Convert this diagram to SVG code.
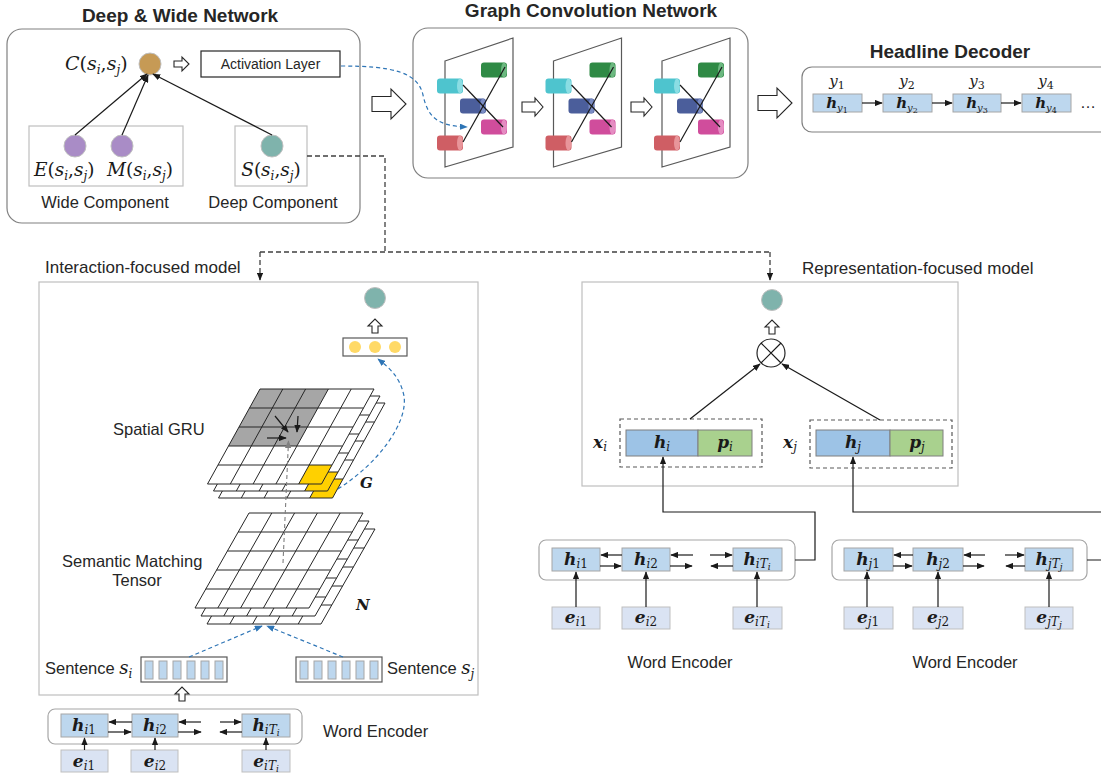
<svg xmlns="http://www.w3.org/2000/svg" width="1101" height="777" viewBox="0 0 1101 777">
<style>
.sans{font-family:"Liberation Sans",Arial,sans-serif;fill:#262626}
.title{font-family:"Liberation Sans",Arial,sans-serif;font-weight:bold;font-size:19px;fill:#262626}
.m{font-family:"DejaVu Serif","Liberation Serif",serif;font-style:italic;fill:#1a1a1a}
.mb{font-family:"DejaVu Serif","Liberation Serif",serif;font-style:italic;font-weight:bold;fill:#1a1a1a}
.up{font-style:normal}
.nb{font-weight:normal}
.rbox{fill:#fff;stroke:#808080;stroke-width:1.2}
.lbox{fill:none;stroke:#BFBFBF;stroke-width:1.2}
.hb{fill:#BDD7EE;stroke:#A6A6A6;stroke-width:1}
.eb{fill:#DAE3F3;stroke:#BFBFBF;stroke-width:1}
.ln{fill:none;stroke:#1a1a1a;stroke-width:1.2}
.arr{fill:none;stroke:#1a1a1a;stroke-width:1.2;marker-end:url(#ah)}
.bdash{fill:none;stroke:#2E75B6;stroke-width:1.2;stroke-dasharray:4 3;marker-end:url(#ab)}
.gdash{fill:none;stroke:#404040;stroke-width:1.3;stroke-dasharray:5 3}
.hollow{fill:#fff;stroke:#262626;stroke-width:1.1}
.gl{fill:none;stroke:#262626;stroke-width:1}
.gp{fill:#fff;stroke:none}
.panel{fill:none;stroke:#595959;stroke-width:1.2}
</style>
<defs>
<marker id="ah" viewBox="0 0 10 8" refX="9" refY="4" markerWidth="8" markerHeight="6.4" orient="auto" markerUnits="userSpaceOnUse"><path d="M0,0 L10,4 L0,8 z" fill="#1a1a1a"/></marker>
<marker id="ab" viewBox="0 0 10 8" refX="9" refY="4" markerWidth="8" markerHeight="6.4" orient="auto" markerUnits="userSpaceOnUse"><path d="M0,0 L10,4 L0,8 z" fill="#2E75B6"/></marker>
<marker id="ag" viewBox="0 0 10 8" refX="9" refY="4" markerWidth="8" markerHeight="6.4" orient="auto" markerUnits="userSpaceOnUse"><path d="M0,0 L10,4 L0,8 z" fill="#7F7F7F"/></marker>
<path id="hsm" d="M0,-3 H8 V-7 L15,0 L8,7 V3 H0 Z"/>
<path id="hmd" d="M0,-5 H13 V-9 L21,0 L13,9 V5 H0 Z"/>
<path id="hbg" d="M0,-7.5 H19 V-15 L34,0 L19,15 V7.5 H0 Z"/>
<path id="hup" d="M-3,0 V-7 H-7 L0,-14 L7,-7 H3 V0 Z"/>
<g id="gcnPanel">
<polygon class="panel" points="445,61 513,38 513,147 445,167"/>
<rect x="437" y="78.5" width="26" height="15" rx="3" fill="#4EC4CE"/><ellipse cx="460" cy="86" rx="3" ry="7.5" fill="#8ADDE3"/>
<rect x="481" y="62.5" width="26" height="15" rx="3" fill="#2F8A45"/><ellipse cx="504" cy="70" rx="3" ry="7.5" fill="#6CB880"/>
<rect x="460" y="98.5" width="26" height="15" rx="3" fill="#4B5E9B"/><ellipse cx="483" cy="106" rx="3" ry="7.5" fill="#7A8CC4"/>
<rect x="481" y="119.5" width="26" height="15" rx="3" fill="#D04D9C"/><ellipse cx="504" cy="127" rx="3" ry="7.5" fill="#E58CC2"/>
<rect x="437" y="135.5" width="26" height="15" rx="3" fill="#CF5E64"/><ellipse cx="460" cy="143" rx="3" ry="7.5" fill="#E8959A"/>
<line class="ln" x1="463" y1="85" x2="503" y2="127"/>
<line class="ln" x1="463" y1="142" x2="505" y2="67"/>
</g>
<polygon id="gruBase" class="gp" points="260,389 374,389 321.5,484 207.5,484"/>
<polygon id="gruYel" fill="#FFD000" points="309.2,465 332,465 321.5,484 298.7,484"/>
<polygon id="gruGray" fill="#A6A6A6" points="260,389 328.4,389 296.9,446 228.5,446"/>
<path id="gruLines" class="gl" d="M260,389 H374 L321.5,484 H207.5 Z M282.8,389 L230.3,484 M305.6,389 L253.1,484 M328.4,389 L275.9,484 M351.2,389 L298.7,484 M249.5,408 H363.5 M239,427 H353 M228.5,446 H342.5 M218,465 H332"/>
<polygon id="smtBase" class="gp" points="249,513 363,513 309,608 195,608"/>
<path id="smtLines" class="gl" d="M249,513 H363 L309,608 H195 Z M271.8,513 L217.8,608 M294.6,513 L240.6,608 M317.4,513 L263.4,608 M340.2,513 L286.2,608 M238.2,532 H352.2 M227.4,551 H341.4 M216.6,570 H330.6 M205.8,589 H319.8"/>
</defs>

<rect width="1101" height="777" fill="#fff"/>

<!-- Deep & Wide Network -->
<g id="deep-wide">
<text class="title" x="180" y="22" text-anchor="middle">Deep &amp; Wide Network</text>
<rect class="rbox" x="7" y="29" width="353" height="194" rx="15"/>
<rect class="lbox" x="29" y="126" width="154" height="60"/>
<rect class="lbox" x="235" y="126" width="72" height="60"/>
<text class="m" x="65" y="70" font-size="19">C<tspan class="up">(</tspan>s<tspan font-size="12" dy="4">i</tspan><tspan class="up" dy="-4">,</tspan>s<tspan font-size="12" dy="4">j</tspan><tspan class="up" dy="-4">)</tspan></text>
<circle cx="150" cy="64" r="11" fill="#C69A55" stroke="#BFBFBF"/>
<use href="#hsm" x="174" y="64" class="hollow"/>
<rect x="201" y="51" width="139" height="26" fill="#fff" stroke="#262626" stroke-width="1.2"/>
<text class="sans" x="270.5" y="69" font-size="14" text-anchor="middle">Activation Layer</text>
<circle cx="75" cy="146" r="11" fill="#A98CC6" stroke="#BFBFBF"/>
<circle cx="122" cy="146" r="11" fill="#A98CC6" stroke="#BFBFBF"/>
<circle cx="272" cy="146" r="11" fill="#7FB3AC" stroke="#BFBFBF"/>
<text class="m" x="34" y="176" font-size="18.5">E<tspan class="up">(</tspan>s<tspan font-size="12" dy="4">i</tspan><tspan class="up" dy="-4">,</tspan>s<tspan font-size="12" dy="4">j</tspan><tspan class="up" dy="-4">)</tspan></text>
<text class="m" x="107" y="176" font-size="18.5">M<tspan class="up">(</tspan>s<tspan font-size="12" dy="4">i</tspan><tspan class="up" dy="-4">,</tspan>s<tspan font-size="12" dy="4">j</tspan><tspan class="up" dy="-4">)</tspan></text>
<text class="m" x="271" y="176" font-size="18.5" text-anchor="middle">S<tspan class="up">(</tspan>s<tspan font-size="12" dy="4">i</tspan><tspan class="up" dy="-4">,</tspan>s<tspan font-size="12" dy="4">j</tspan><tspan class="up" dy="-4">)</tspan></text>
<text class="sans" x="105" y="208" font-size="16.5" text-anchor="middle">Wide Component</text>
<text class="sans" x="273" y="208" font-size="16.5" text-anchor="middle">Deep Component</text>
</g>

<!-- Graph Convolution Network -->
<g id="gcn">
<text class="title" x="591" y="17" text-anchor="middle">Graph Convolution Network</text>
<rect class="rbox" x="413" y="28" width="335" height="150" rx="15"/>
<use href="#gcnPanel"/>
<use href="#gcnPanel" x="108.5"/>
<use href="#gcnPanel" x="217"/>
<use href="#hmd" x="522" y="107" class="hollow"/>
<use href="#hmd" x="631" y="107" class="hollow"/>
</g>

<!-- Headline Decoder -->
<g id="decoder">
<text class="title" x="950" y="58" text-anchor="middle">Headline Decoder</text>
<rect class="rbox" x="802" y="67" width="320" height="65" rx="10"/>
<rect class="hb" x="813" y="94" width="49" height="18"/>
<rect class="hb" x="883" y="94" width="49" height="18"/>
<rect class="hb" x="953" y="94" width="48" height="18"/>
<rect class="hb" x="1022" y="94" width="49" height="18"/>
<text class="m" x="837" y="86" font-size="15" text-anchor="middle">y<tspan class="up" font-size="11" dy="3">1</tspan></text>
<text class="m" x="907" y="86" font-size="15" text-anchor="middle">y<tspan class="up" font-size="11" dy="3">2</tspan></text>
<text class="m" x="977" y="86" font-size="15" text-anchor="middle">y<tspan class="up" font-size="11" dy="3">3</tspan></text>
<text class="m" x="1046" y="86" font-size="15" text-anchor="middle">y<tspan class="up" font-size="11" dy="3">4</tspan></text>
<text class="mb" x="837" y="108" font-size="15" text-anchor="middle">h<tspan class="nb" font-size="10" dy="3">y</tspan><tspan class="nb up" font-size="8" dy="2">1</tspan></text>
<text class="mb" x="907" y="108" font-size="15" text-anchor="middle">h<tspan class="nb" font-size="10" dy="3">y</tspan><tspan class="nb up" font-size="8" dy="2">2</tspan></text>
<text class="mb" x="977" y="108" font-size="15" text-anchor="middle">h<tspan class="nb" font-size="10" dy="3">y</tspan><tspan class="nb up" font-size="8" dy="2">3</tspan></text>
<text class="mb" x="1046" y="108" font-size="15" text-anchor="middle">h<tspan class="nb" font-size="10" dy="3">y</tspan><tspan class="nb up" font-size="8" dy="2">4</tspan></text>
<text class="sans" x="1080" y="108" font-size="16">…</text>
</g>

<!-- Interaction-focused model -->
<g id="interaction">
<text class="sans" x="45" y="273" font-size="17">Interaction-focused model</text>
<rect class="lbox" x="39" y="282" width="439" height="413"/>
<circle cx="375" cy="298" r="10.5" fill="#7FB3AC" stroke="#BFBFBF"/>
<use href="#hup" x="375" y="333" class="hollow"/>
<rect x="343" y="338" width="64" height="18" fill="#fff" stroke="#595959" stroke-width="1.2"/>
<circle cx="355" cy="347" r="6" fill="#FFD966"/>
<circle cx="375" cy="347" r="6" fill="#FFD966"/>
<circle cx="395" cy="347" r="6" fill="#FFD966"/>
<text class="sans" x="113" y="435" font-size="16.5">Spatial GRU</text>
<text class="sans" x="62" y="567" font-size="16.5">Semantic Matching</text>
<text class="sans" x="137" y="586" font-size="16.5" text-anchor="middle">Tensor</text>
<text class="mb" x="360" y="488" font-size="15">G</text>
<text class="mb" x="356" y="610" font-size="15">N</text>
</g>

<!-- Spatial GRU grid -->
<g id="spatial-gru">
<g transform="translate(11,14)"><use href="#gruBase"/><use href="#gruYel"/><use href="#gruLines"/></g>
<g transform="translate(6,7)"><use href="#gruBase"/><use href="#gruYel"/><use href="#gruLines"/></g>
<use href="#gruBase"/><use href="#gruGray"/><use href="#gruYel"/><use href="#gruLines"/>
<line class="arr" x1="275" y1="416" x2="288" y2="432"/>
<line class="arr" x1="298" y1="416" x2="297" y2="432"/>
<line class="arr" x1="267" y1="438" x2="286" y2="438"/>
</g>

<!-- Semantic Matching Tensor grid -->
<g id="matching-tensor">
<g transform="translate(12,16)"><use href="#smtBase"/><use href="#smtLines"/></g>
<g transform="translate(6,8)"><use href="#smtBase"/><use href="#smtLines"/></g>
<use href="#smtBase"/><use href="#smtLines"/>
</g>

<!-- Sentences -->
<g id="sentence-i">
<text class="sans" x="45" y="674" font-size="16.5">Sentence <tspan class="m" font-size="18">s</tspan><tspan class="m" font-size="12" dy="4">i</tspan></text>
<rect x="141" y="657" width="86" height="25" fill="#fff" stroke="#595959" stroke-width="1.2"/>
<g class="hb" stroke="#9DC3E6"><rect x="145" y="661" width="8" height="18"/><rect x="159" y="661" width="8" height="18"/><rect x="173" y="661" width="8" height="18"/><rect x="187" y="661" width="8" height="18"/><rect x="201" y="661" width="8" height="18"/><rect x="215" y="661" width="8" height="18"/></g>
</g>
<g id="sentence-j">
<rect x="296" y="657" width="86" height="25" fill="#fff" stroke="#595959" stroke-width="1.2"/>
<g class="hb" stroke="#9DC3E6"><rect x="300" y="661" width="8" height="18"/><rect x="314" y="661" width="8" height="18"/><rect x="328" y="661" width="8" height="18"/><rect x="342" y="661" width="8" height="18"/><rect x="356" y="661" width="8" height="18"/><rect x="370" y="661" width="8" height="18"/></g>
<text class="sans" x="387" y="674" font-size="16.5">Sentence <tspan class="m" font-size="18">s</tspan><tspan class="m" font-size="12" dy="4">j</tspan></text>
</g>
<use href="#hup" x="182" y="701" class="hollow"/>

<!-- Word encoder (interaction) -->
<g id="word-encoder-left">
<rect x="48" y="709" width="254" height="35" rx="7" fill="#fff" stroke="#A6A6A6" stroke-width="1.2"/>
<rect class="hb" x="61" y="714" width="47" height="23"/>
<rect class="hb" x="132" y="714" width="46" height="23"/>
<rect class="hb" x="242" y="714" width="48" height="23"/>
<rect class="eb" x="61" y="750" width="47" height="22"/>
<rect class="eb" x="131" y="750" width="47" height="22"/>
<rect class="eb" x="242" y="750" width="48" height="22"/>
<text class="mb" x="84" y="731" font-size="17" text-anchor="middle">h<tspan class="nb" font-size="12" dy="3">i</tspan><tspan class="nb up" font-size="12">1</tspan></text>
<text class="mb" x="155" y="731" font-size="17" text-anchor="middle">h<tspan class="nb" font-size="12" dy="3">i</tspan><tspan class="nb up" font-size="12">2</tspan></text>
<text class="mb" x="266" y="731" font-size="17" text-anchor="middle">h<tspan class="nb" font-size="12" dy="3">iT</tspan><tspan class="nb" font-size="9" dy="2">i</tspan></text>
<text class="mb" x="84" y="767" font-size="17" text-anchor="middle">e<tspan class="nb" font-size="12" dy="3">i</tspan><tspan class="nb up" font-size="12">1</tspan></text>
<text class="mb" x="155" y="767" font-size="17" text-anchor="middle">e<tspan class="nb" font-size="12" dy="3">i</tspan><tspan class="nb up" font-size="12">2</tspan></text>
<text class="mb" x="266" y="767" font-size="17" text-anchor="middle">e<tspan class="nb" font-size="12" dy="3">iT</tspan><tspan class="nb" font-size="9" dy="2">i</tspan></text>
<text class="sans" x="323" y="737" font-size="16.5">Word Encoder</text>
</g>

<!-- Representation-focused model -->
<g id="representation">
<text class="sans" x="802" y="274" font-size="17">Representation-focused model</text>
<rect class="lbox" x="582" y="282" width="376" height="204"/>
<circle cx="772" cy="300" r="10.5" fill="#7FB3AC" stroke="#BFBFBF"/>
<use href="#hup" x="772" y="334" class="hollow"/>
<circle cx="771" cy="353" r="14" fill="#fff" stroke="#262626" stroke-width="1.2"/>
<path class="ln" d="M761,343 L781,363 M781,343 L761,363"/>
<rect x="620" y="419" width="142" height="48" fill="none" stroke="#595959" stroke-width="1.2" stroke-dasharray="4 3"/>
<rect x="626" y="430" width="72" height="26" fill="#9DC3E6" stroke="#7F7F7F"/>
<rect x="698" y="430" width="54" height="26" fill="#A9D18E" stroke="#7F7F7F"/>
<rect x="810" y="420" width="142" height="48" fill="none" stroke="#595959" stroke-width="1.2" stroke-dasharray="4 3"/>
<rect x="816" y="430" width="74" height="26" fill="#9DC3E6" stroke="#7F7F7F"/>
<rect x="890" y="430" width="53" height="26" fill="#A9D18E" stroke="#7F7F7F"/>
<text class="mb" x="593" y="448" font-size="17">x<tspan class="nb" font-size="12" dy="3">i</tspan></text>
<text class="mb" x="783" y="448" font-size="17">x<tspan class="nb" font-size="12" dy="3">j</tspan></text>
<text class="mb" x="662" y="448" font-size="17" text-anchor="middle">h<tspan class="nb" font-size="12" dy="3">i</tspan></text>
<text class="mb" x="725" y="448" font-size="17" text-anchor="middle">p<tspan class="nb" font-size="12" dy="3">i</tspan></text>
<text class="mb" x="853" y="448" font-size="17" text-anchor="middle">h<tspan class="nb" font-size="12" dy="3">j</tspan></text>
<text class="mb" x="917" y="448" font-size="17" text-anchor="middle">p<tspan class="nb" font-size="12" dy="3">j</tspan></text>
</g>

<!-- Word encoder i (representation) -->
<g id="word-encoder-i">
<rect x="539" y="540" width="256" height="40" rx="7" fill="#fff" stroke="#A6A6A6" stroke-width="1.2"/>
<rect class="hb" x="552" y="548" width="48" height="23"/>
<rect class="hb" x="622" y="548" width="48" height="23"/>
<rect class="hb" x="733" y="548" width="49" height="23"/>
<rect class="eb" x="552" y="607" width="48" height="22"/>
<rect class="eb" x="622" y="607" width="48" height="22"/>
<rect class="eb" x="733" y="607" width="49" height="22"/>
<text class="mb" x="576" y="565" font-size="17" text-anchor="middle">h<tspan class="nb" font-size="12" dy="3">i</tspan><tspan class="nb up" font-size="12">1</tspan></text>
<text class="mb" x="646" y="565" font-size="17" text-anchor="middle">h<tspan class="nb" font-size="12" dy="3">i</tspan><tspan class="nb up" font-size="12">2</tspan></text>
<text class="mb" x="757" y="565" font-size="17" text-anchor="middle">h<tspan class="nb" font-size="12" dy="3">iT</tspan><tspan class="nb" font-size="9" dy="2">i</tspan></text>
<text class="mb" x="576" y="623" font-size="17" text-anchor="middle">e<tspan class="nb" font-size="12" dy="3">i</tspan><tspan class="nb up" font-size="12">1</tspan></text>
<text class="mb" x="646" y="623" font-size="17" text-anchor="middle">e<tspan class="nb" font-size="12" dy="3">i</tspan><tspan class="nb up" font-size="12">2</tspan></text>
<text class="mb" x="757" y="623" font-size="17" text-anchor="middle">e<tspan class="nb" font-size="12" dy="3">iT</tspan><tspan class="nb" font-size="9" dy="2">i</tspan></text>
<text class="sans" x="680" y="668" font-size="16.5" text-anchor="middle">Word Encoder</text>
</g>

<!-- Word encoder j (representation) -->
<g id="word-encoder-j">
<rect x="832" y="540" width="255" height="40" rx="7" fill="#fff" stroke="#A6A6A6" stroke-width="1.2"/>
<rect class="hb" x="844" y="548" width="49" height="23"/>
<rect class="hb" x="913" y="548" width="50" height="23"/>
<rect class="hb" x="1025" y="548" width="48" height="23"/>
<rect class="eb" x="844" y="607" width="49" height="22"/>
<rect class="eb" x="913" y="607" width="50" height="22"/>
<rect class="eb" x="1025" y="607" width="48" height="22"/>
<text class="mb" x="868" y="565" font-size="17" text-anchor="middle">h<tspan class="nb" font-size="12" dy="3">j</tspan><tspan class="nb up" font-size="12">1</tspan></text>
<text class="mb" x="938" y="565" font-size="17" text-anchor="middle">h<tspan class="nb" font-size="12" dy="3">j</tspan><tspan class="nb up" font-size="12">2</tspan></text>
<text class="mb" x="1049" y="565" font-size="17" text-anchor="middle">h<tspan class="nb" font-size="12" dy="3">jT</tspan><tspan class="nb" font-size="9" dy="2">j</tspan></text>
<text class="mb" x="868" y="623" font-size="17" text-anchor="middle">e<tspan class="nb" font-size="12" dy="3">j</tspan><tspan class="nb up" font-size="12">1</tspan></text>
<text class="mb" x="938" y="623" font-size="17" text-anchor="middle">e<tspan class="nb" font-size="12" dy="3">j</tspan><tspan class="nb up" font-size="12">2</tspan></text>
<text class="mb" x="1049" y="623" font-size="17" text-anchor="middle">e<tspan class="nb" font-size="12" dy="3">jT</tspan><tspan class="nb" font-size="9" dy="2">j</tspan></text>
<text class="sans" x="965" y="668" font-size="16.5" text-anchor="middle">Word Encoder</text>
</g>

<!-- Connectors -->
<g id="connectors">
<line class="arr" x1="75" y1="135" x2="147" y2="74"/>
<line class="arr" x1="122" y1="135" x2="148" y2="75"/>
<line class="arr" x1="272" y1="135" x2="153" y2="74"/>
<path class="bdash" d="M341,66 C392,66 418,72 423,95 C428,118 438,126 467,127"/>
<use href="#hbg" x="372" y="104" class="hollow"/>
<use href="#hbg" x="758" y="103" class="hollow"/>
<path class="gdash" d="M307,156 H385 V252"/>
<path class="gdash" d="M260,252 H770"/>
<line class="gdash" x1="260" y1="252" x2="260" y2="280" marker-end="url(#ah)"/>
<line class="gdash" x1="770" y1="252" x2="770" y2="280" marker-end="url(#ah)"/>
<path class="bdash" d="M338,489 C380,462 408,422 404,396 C400,376 388,367 378,359"/>
<line x1="283" y1="563" x2="288.5" y2="441" stroke="#7F7F7F" stroke-width="1.1" stroke-dasharray="4 3" marker-end="url(#ag)"/>
<line class="bdash" x1="189" y1="657" x2="262" y2="626"/>
<line class="bdash" x1="343" y1="657" x2="267" y2="626"/>
<line class="arr" x1="132" y1="722" x2="109" y2="722"/>
<line class="arr" x1="108" y1="732" x2="131" y2="732"/>
<line class="arr" x1="201" y1="722" x2="179" y2="722"/>
<line class="arr" x1="178" y1="732" x2="201" y2="732"/>
<line class="arr" x1="220" y1="722" x2="241" y2="722"/>
<line class="arr" x1="242" y1="732" x2="220" y2="732"/>
<line class="arr" x1="84.5" y1="750" x2="84.5" y2="738"/>
<line class="arr" x1="155" y1="750" x2="155" y2="738"/>
<line class="arr" x1="266" y1="750" x2="266" y2="738"/>
<line class="arr" x1="622" y1="555" x2="601" y2="555"/>
<line class="arr" x1="600" y1="566" x2="621" y2="566"/>
<line class="arr" x1="693" y1="555" x2="671" y2="555"/>
<line class="arr" x1="670" y1="566" x2="692" y2="566"/>
<line class="arr" x1="710" y1="555" x2="732" y2="555"/>
<line class="arr" x1="733" y1="566" x2="711" y2="566"/>
<line class="arr" x1="576" y1="607" x2="576" y2="572"/>
<line class="arr" x1="646" y1="607" x2="646" y2="572"/>
<line class="arr" x1="757" y1="607" x2="757" y2="572"/>
<line class="arr" x1="913" y1="555" x2="894" y2="555"/>
<line class="arr" x1="893" y1="566" x2="912" y2="566"/>
<line class="arr" x1="985" y1="555" x2="964" y2="555"/>
<line class="arr" x1="963" y1="566" x2="984" y2="566"/>
<line class="arr" x1="1005" y1="555" x2="1024" y2="555"/>
<line class="arr" x1="1025" y1="566" x2="1006" y2="566"/>
<line class="arr" x1="867" y1="607" x2="867" y2="572"/>
<line class="arr" x1="938" y1="607" x2="938" y2="572"/>
<line class="arr" x1="1049" y1="607" x2="1049" y2="572"/>
<path class="arr" d="M795,560 H815 V512 H663 V457"/>
<path class="arr" d="M1087,560 H1105 M1105,512 H853 V457"/>
<line class="arr" x1="690" y1="419" x2="760" y2="364"/>
<line class="arr" x1="880" y1="420" x2="782" y2="364"/>
<line class="arr" x1="862" y1="103" x2="882" y2="103"/>
<line class="arr" x1="932" y1="103" x2="952" y2="103"/>
<line class="arr" x1="1001" y1="103" x2="1021" y2="103"/>
</g>
</svg>
